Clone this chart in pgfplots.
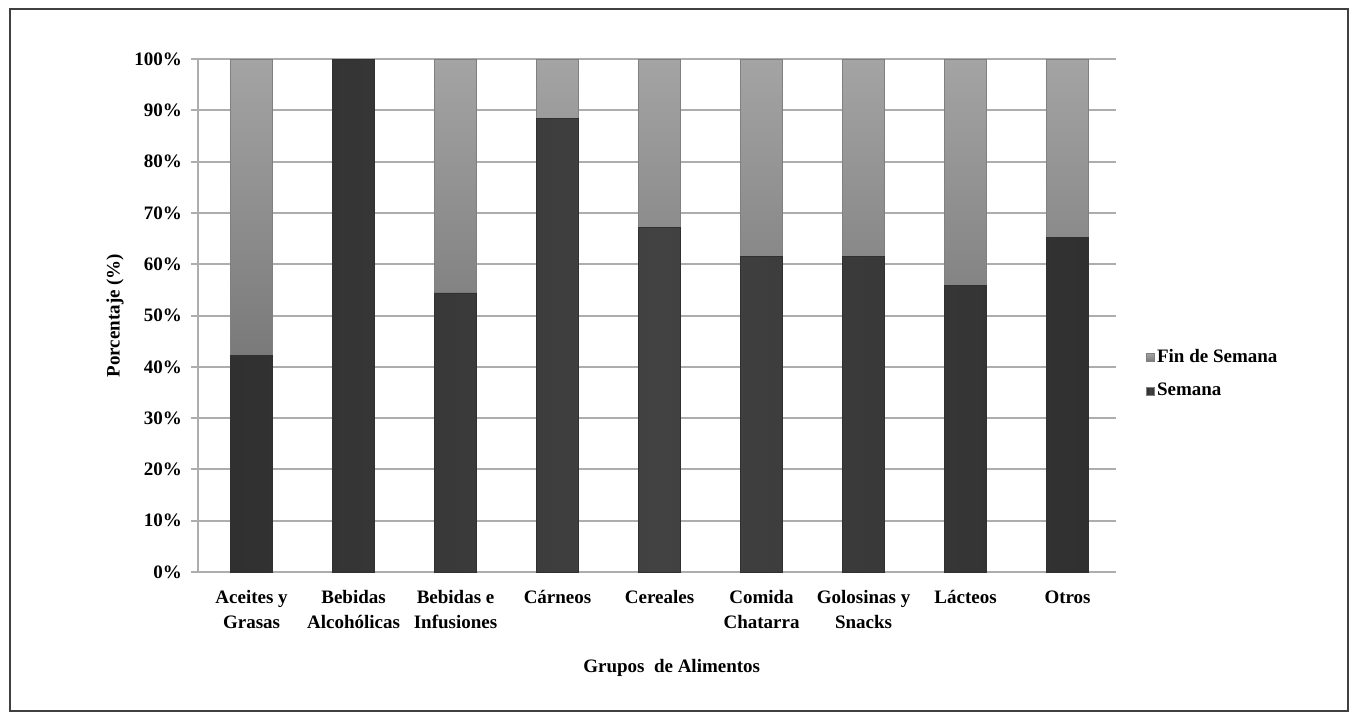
\documentclass[border=0pt]{standalone}
\usepackage{pgfplots}
\pgfplotsset{compat=1.18}
\usepackage{fontspec}
\setmainfont{Liberation Serif}
\definecolor{darkbar}{HTML}{424242}
\definecolor{darkedge}{HTML}{303030}
\definecolor{lighttop}{HTML}{A4A4A4}
\definecolor{lightbot}{HTML}{7A7A7A}
\definecolor{gridc}{HTML}{ADADAD}
\pgfplotstableread{
x semana fin
0 42.2 57.8
1 100 0
2 54.4 45.6
3 88.5 11.5
4 67.2 32.8
5 61.5 38.5
6 61.5 38.5
7 55.8 44.2
8 65.3 34.7
}\datatable
\begin{document}
\begin{tikzpicture}[x=0.5pt,y=0.5pt]
\path[use as bounding box] (0,0) rectangle (1358,720);
\draw[line width=0.9pt, color=black!75] (10,9) rectangle (1348,711);
\begin{axis}[
  at={(99pt,74pt)}, anchor=south west,
  scale only axis, width=459pt, height=256.5pt,
  ybar stacked, bar width=21pt,
  xmin=-0.525, xmax=8.475, ymin=0, ymax=100, enlargelimits=false,
  axis x line*=bottom, axis y line*=left,
  axis line style={gridc, line width=1pt},
  xtick=data,
  xticklabels={\strut Aceites y\\\strut Grasas, \strut Bebidas\\\strut Alcohólicas, \strut Bebidas e\\\strut Infusiones, \strut Cárneos\\\strut, \strut Cereales\\\strut, \strut Comida\\\strut Chatarra, \strut Golosinas y\\\strut Snacks, \strut Lácteos\\\strut, \strut Otros\\\strut},
  xtick style={draw=none},
  ytick={0,10,...,100},
  yticklabel={\pgfmathprintnumber{\tick}\%},
  ytick style={gridc, line width=1pt},
  tick align=outside, major tick length=3.5pt,
  ymajorgrids, major grid style={gridc, line width=1pt},
  /pgf/number format/assume math mode=true,
  tick label style={font=\bfseries\fontsize{9.5}{12.5}\selectfont},
  xticklabel style={align=center, anchor=north, yshift=0pt},
  yticklabel style={xshift=-1pt},
  xlabel={Grupos\ \ de Alimentos},
  ylabel={Porcentaje (\%)},
  label style={font=\bfseries\fontsize{9.5}{11}\selectfont},
  xlabel style={at={(axis description cs:0.516,-0.187)}, anchor=center},
  ylabel style={at={(axis description cs:-0.0904,0.5)}, anchor=center},
  legend style={at={(1.026,0.386)}, anchor=west, draw=none, fill=none,
    font=\bfseries\fontsize{9.5}{11}\selectfont, row sep=7pt,
    nodes={inner sep=1pt}},
  legend cell align=left,
  reverse legend,
  legend image code/.code={\draw[#1, draw=gray] (0pt,-2pt) rectangle (4pt,2pt);},
]
\addplot[draw=darkedge, line width=0.4pt, left color=darkedge, right color=darkedge, middle color=darkbar] table[x=x, y=semana] {\datatable};
\addplot[draw=gray, line width=0.4pt, top color=lighttop, bottom color=lightbot] table[x=x, y=fin] {\datatable};
\legend{Semana, Fin de Semana}
\end{axis}
\end{tikzpicture}
\end{document}
